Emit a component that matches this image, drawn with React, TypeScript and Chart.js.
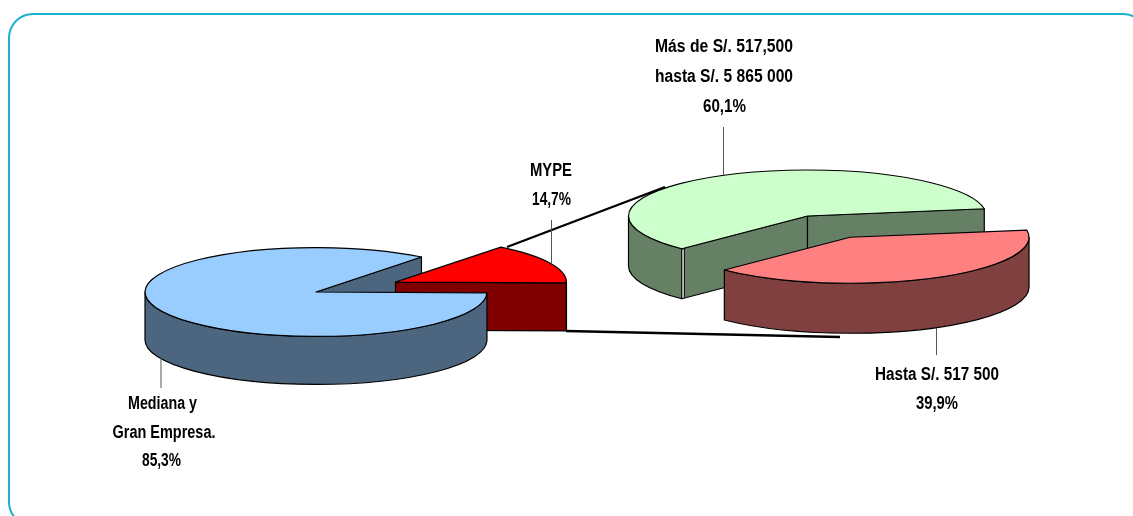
import React, { useEffect, useRef } from "react";
import { Chart, registerables } from "chart.js";

Chart.register(...registerables);

// ---- data ----
const companyCategories = ["Mediana y Gran Empresa", "MYPE"];
const companyShares = [85.3, 14.7];
const companyTopColors = ["#99CCFF", "#FF0000"];
const companyWallColors = ["#4D6680", "#800000"];

const mypeCategories = ["Más de S/. 517,500 hasta S/. 5 865 000", "Hasta S/. 517 500"];
const mypeShares = [60.1, 39.9];
const mypeTopColors = ["#CCFFCC", "#FF8080"];
const mypeWallColors = ["#668066", "#804040"];

// text, centre x, centre y, width on the page
const textLabels: [string, number, number, number][] = [
  ["Más de S/. 517,500", 724, 47, 138],
  ["hasta S/. 5 865 000", 724, 77, 138],
  ["60,1%", 724.5, 107, 43],
  ["MYPE", 551, 171, 42],
  ["14,7%", 551.5, 200, 39],
  ["Mediana y", 162.5, 404, 69],
  ["Gran Empresa.", 164, 433, 103],
  ["85,3%", 161.5, 461, 39],
  ["Hasta S/. 517 500", 937, 375, 124],
  ["39,9%", 937, 404, 42],
];

const WIDTH = 1133;
const HEIGHT = 516;
const BLEED = 80; // canvases extend above and below the page so a pie's layout box may overhang it

type PieLayout = {
  cx: number;
  cy: number;
  radius: number;
  squash: number;
  depth: number;
  explode: number[];
  rotation: number;
  walls: string[];
  seam: boolean;
};

const companyLayout: PieLayout = {
  cx: 316, cy: 292, radius: 171, squash: 0.26, depth: 48,
  explode: [0, 88], rotation: 91, walls: companyWallColors, seam: false,
};
const mypeLayout: PieLayout = {
  cx: 807.5, cy: 216, radius: 179, squash: 0.257, depth: 50,
  explode: [0, 93], rotation: 224.6, walls: mypeWallColors, seam: true,
};

const connectors = [
  [507, 247, 665, 187],
  [566, 331, 840, 337],
];
const pointers = [
  [723.5, 127, 723.5, 175],
  [551.5, 220, 551.5, 263],
  [161, 358, 161, 388],
  [936.5, 328, 936.5, 355],
];

function pieDrawer(layout: PieLayout) {
  return {
    id: "pie3d",
    beforeDatasetsDraw(chart: any) {
      const ctx: CanvasRenderingContext2D = chart.ctx;
      const arcs = chart.getDatasetMeta(0).data;
      const dataset = chart.data.datasets[0];
      const k = layout.squash;
      const d = layout.depth;

      const slices = arcs.map((arc: any, i: number) => {
        const mid = (arc.startAngle + arc.endAngle) / 2;
        const off = arc.options.offset || 0;
        return {
          x: arc.x + Math.cos(mid) * off,
          y: arc.y + Math.sin(mid) * off * k,
          r: arc.outerRadius,
          a0: arc.startAngle,
          a1: arc.endAngle,
          mid,
          off,
          top: dataset.backgroundColor[i],
          wall: layout.walls[i],
        };
      });

      ctx.save();
      ctx.lineJoin = "round";
      ctx.strokeStyle = "#000";
      ctx.lineWidth = 1.2;

      const paint = (fill: string) => {
        ctx.fillStyle = fill;
        ctx.fill();
        ctx.stroke();
      };
      const cutFace = (s: any, angle: number) => {
        const px = s.x + Math.cos(angle) * s.r;
        const py = s.y + Math.sin(angle) * s.r * k;
        ctx.beginPath();
        ctx.moveTo(s.x, s.y);
        ctx.lineTo(px, py);
        ctx.lineTo(px, py + d);
        ctx.lineTo(s.x, s.y + d);
        ctx.closePath();
        paint(s.wall);
      };
      const cuts = (s: any) => {
        if (Math.cos(s.a0) < 0) cutFace(s, s.a0);
        if (Math.cos(s.a1) > 0) cutFace(s, s.a1);
      };
      const outer = (s: any) => {
        for (let w = -2; w <= 4; w += 2) {
          const from = Math.max(s.a0, w * Math.PI);
          const to = Math.min(s.a1, (w + 1) * Math.PI);
          if (to <= from) continue;
          ctx.beginPath();
          ctx.ellipse(s.x, s.y, s.r, s.r * k, 0, from, to, false);
          ctx.ellipse(s.x, s.y + d, s.r, s.r * k, 0, to, from, true);
          ctx.closePath();
          paint(s.wall);
        }
      };
      const top = (s: any) => {
        ctx.beginPath();
        ctx.moveTo(s.x, s.y);
        ctx.ellipse(s.x, s.y, s.r, s.r * k, 0, s.a0, s.a1, false);
        ctx.closePath();
        paint(s.top);
      };
      const seamLine = (s: any) => {
        const px = s.x + Math.cos(s.a0) * s.r;
        const py = s.y + Math.sin(s.a0) * s.r * k;
        ctx.save();
        ctx.lineWidth = 1.4;
        ctx.strokeStyle = "#fff";
        ctx.beginPath();
        ctx.moveTo(px + 1.3, py + 1);
        ctx.lineTo(px + 1.3, py + d - 1);
        ctx.stroke();
        ctx.lineWidth = 1;
        ctx.strokeStyle = "#000";
        ctx.beginPath();
        ctx.moveTo(px + 2.5, py - 0.5);
        ctx.lineTo(px + 2.5, py + d - 1);
        ctx.stroke();
        ctx.restore();
      };

      const base = slices.filter((s: any) => !s.off);
      const moved = slices.filter((s: any) => s.off);
      const whole = (s: any) => {
        cuts(s);
        outer(s);
        top(s);
      };

      base.forEach(cuts);
      moved.filter((s: any) => Math.sin(s.mid) < 0).forEach(whole);
      base.forEach((s: any) => {
        outer(s);
        top(s);
        if (layout.seam) seamLine(s);
      });
      moved.filter((s: any) => Math.sin(s.mid) >= 0).forEach(whole);

      ctx.restore();
      return false;
    },
  };
}

const annotations = {
  id: "annotations",
  afterDraw(chart: any) {
    const ctx: CanvasRenderingContext2D = chart.ctx;
    ctx.save();
    ctx.translate(0, BLEED);
    ctx.strokeStyle = "#000";
    ctx.lineWidth = 2.4;
    connectors.forEach(([a, b, c, e]) => {
      ctx.beginPath();
      ctx.moveTo(a, b);
      ctx.lineTo(c, e);
      ctx.stroke();
    });
    ctx.strokeStyle = "#555";
    ctx.lineWidth = 1;
    pointers.forEach(([a, b, c, e]) => {
      ctx.beginPath();
      ctx.moveTo(a, b);
      ctx.lineTo(c, e);
      ctx.stroke();
    });
    ctx.fillStyle = "#000";
    ctx.font = 'bold 18px "Liberation Sans", sans-serif';
    ctx.textAlign = "center";
    ctx.textBaseline = "middle";
    textLabels.forEach(([t, x, y, w]) => {
      ctx.save();
      ctx.translate(x, y);
      ctx.scale(w / ctx.measureText(t).width, 1);
      ctx.fillText(t, 0, 0);
      ctx.restore();
    });
    ctx.restore();
  },
};

function makeChart(
  canvas: HTMLCanvasElement,
  layout: PieLayout,
  labels: string[],
  values: number[],
  colors: string[],
  extra: any[]
) {
  const borderWidth = 1;
  const side = 2 * layout.radius + Math.max(...layout.explode) + borderWidth;
  return new Chart(canvas, {
    type: "pie",
    data: {
      labels,
      datasets: [
        {
          data: values,
          backgroundColor: colors,
          borderColor: "#000",
          borderWidth,
          offset: layout.explode,
        },
      ],
    },
    options: {
      responsive: false,
      animation: false,
      devicePixelRatio: 1,
      rotation: layout.rotation,
      layout: {
        padding: {
          left: layout.cx - side / 2,
          right: WIDTH - layout.cx - side / 2,
          top: layout.cy + BLEED - side / 2,
          bottom: HEIGHT + BLEED - layout.cy - side / 2,
        },
      },
      plugins: { legend: { display: false }, tooltip: { enabled: false } },
    } as any,
    plugins: [pieDrawer(layout), ...extra],
  } as any);
}

const layerStyle: React.CSSProperties = { position: "absolute", left: 0, top: -BLEED, display: "block" };

export default function App() {
  const leftRef = useRef<HTMLCanvasElement>(null);
  const rightRef = useRef<HTMLCanvasElement>(null);

  useEffect(() => {
    const a = makeChart(leftRef.current!, companyLayout, companyCategories, companyShares, companyTopColors, []);
    const b = makeChart(rightRef.current!, mypeLayout, mypeCategories, mypeShares, mypeTopColors, [annotations]);
    return () => {
      a.destroy();
      b.destroy();
    };
  }, []);

  return (
    <div
      style={{
        position: "fixed",
        left: 0,
        top: 0,
        width: WIDTH,
        height: HEIGHT,
        overflow: "hidden",
        background: "#fff",
      }}
    >
      <div
        style={{
          position: "absolute",
          left: 8,
          top: 13,
          width: 1136,
          height: 510,
          border: "2px solid #1AAFCF",
          borderRadius: 25,
          boxSizing: "content-box",
        }}
      />
      <canvas ref={leftRef} width={WIDTH} height={HEIGHT + 2 * BLEED} style={layerStyle} />
      <canvas ref={rightRef} width={WIDTH} height={HEIGHT + 2 * BLEED} style={layerStyle} />
    </div>
  );
}
